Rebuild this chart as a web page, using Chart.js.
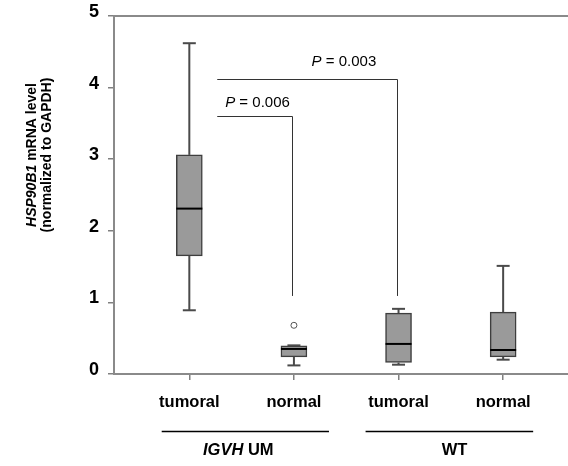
<!DOCTYPE html>
<html>
<head>
<meta charset="utf-8">
<script src="https://cdn.jsdelivr.net/npm/chart.js@4/dist/chart.umd.min.js"></script>
<style>
  html, body { margin: 0; padding: 0; background: #ffffff; }
  #wrap { width: 568px; height: 466px; position: relative; }
</style>
</head>
<body>
<div id="wrap"><canvas id="chart"></canvas></div>
<script>
// Sample groups along the x axis
const categories = ['tumoral', 'normal', 'tumoral', 'normal'];
const groups = ['IGVH UM', 'WT'];

// Box plot statistics for each sample (HSP90B1 / GAPDH)
const whiskerLow  = [0.89, 0.12, 0.13, 0.20];
const quartile1   = [1.65, 0.24, 0.16, 0.24];
const medians     = [2.31, 0.35, 0.42, 0.335];
const quartile3   = [3.06, 0.395, 0.85, 0.865];
const whiskerHigh = [4.62, 0.40, 0.91, 1.51];
const outliers    = [[], [0.68], [], []];

// Axis ticks
const yTicks = [0, 1, 2, 3, 4, 5];

// Pairwise comparisons (sample indices) and their p-values
const comparePairs = [[0, 1], [0, 2]];
const pValues = ['0.006', '0.003'];

// ---- drawing layout (data coordinates) ----
const FONT = '"Liberation Sans", Arial, Helvetica, sans-serif';
const bracketLayout = [
  { y: 3.60, x0: 1.267, x1: 1.978, drop: 1.09, textX: 1.343, textY: 3.725 },
  { y: 4.12, x0: 1.267, x1: 2.987, drop: 1.09, textX: 2.169, textY: 4.30 }
];
const groupLayout = [
  { x0: 0.736, x1: 2.335, labelX: 1.468, italic: 'IGVH' },
  { x0: 2.685, x1: 4.287, labelX: 3.535, italic: '' }
];

const boxData = categories.map((c, i) => ({ x: i + 1, y: [quartile1[i], quartile3[i]] }));
const outlierData = [];
outliers.forEach((list, i) => list.forEach(v => outlierData.push({ x: i + 1, y: v })));

const boxPlotExtras = {
  id: 'boxPlotExtras',
  afterDatasetsDraw(chart) {
    const { ctx, scales: { x, y }, chartArea } = chart;
    const meta = chart.getDatasetMeta(0);
    ctx.save();

    // whiskers and caps
    ctx.strokeStyle = '#4a4a4a';
    ctx.lineWidth = 2;
    categories.forEach((c, i) => {
      const px = x.getPixelForValue(i + 1);
      const capHalf = 6.5;
      const segs = [[quartile3[i], whiskerHigh[i]], [quartile1[i], whiskerLow[i]]];
      segs.forEach(([from, to]) => {
        if (Math.abs(from - to) < 1e-9) return;
        ctx.beginPath();
        ctx.moveTo(px, y.getPixelForValue(from));
        ctx.lineTo(px, y.getPixelForValue(to));
        ctx.stroke();
        ctx.beginPath();
        ctx.moveTo(px - capHalf, y.getPixelForValue(to));
        ctx.lineTo(px + capHalf, y.getPixelForValue(to));
        ctx.stroke();
      });
    });

    // medians across each box
    ctx.strokeStyle = '#000000';
    ctx.lineWidth = 2;
    meta.data.forEach((bar, i) => {
      const half = bar.width / 2;
      const py = y.getPixelForValue(medians[i]);
      ctx.beginPath();
      ctx.moveTo(bar.x - half, py);
      ctx.lineTo(bar.x + half, py);
      ctx.stroke();
    });

    // top frame line
    ctx.strokeStyle = '#8a8a8a';
    ctx.lineWidth = 2;
    ctx.beginPath();
    ctx.moveTo(chartArea.left, chartArea.top);
    ctx.lineTo(chartArea.right, chartArea.top);
    ctx.stroke();

    // significance brackets
    ctx.strokeStyle = '#333333';
    ctx.lineWidth = 1;
    comparePairs.forEach((pair, k) => {
      const b = bracketLayout[k];
      const yl = Math.round(y.getPixelForValue(b.y)) + 0.5;
      const xr = Math.round(x.getPixelForValue(b.x1)) + 0.5;
      ctx.beginPath();
      ctx.moveTo(x.getPixelForValue(b.x0), yl);
      ctx.lineTo(xr, yl);
      ctx.lineTo(xr, y.getPixelForValue(b.drop));
      ctx.stroke();

      ctx.fillStyle = '#000000';
      ctx.textBaseline = 'alphabetic';
      ctx.textAlign = 'left';
      let tx = x.getPixelForValue(b.textX);
      const ty = y.getPixelForValue(b.textY);
      ctx.font = 'italic 15px ' + FONT;
      ctx.fillText('P', tx, ty);
      tx += ctx.measureText('P').width;
      ctx.font = '15px ' + FONT;
      ctx.fillText(' = ' + pValues[k], tx, ty);
    });

    // group underlines and labels
    const lineY = 431.5;
    groupLayout.forEach((g, k) => {
      ctx.strokeStyle = '#000000';
      ctx.lineWidth = 1.5;
      ctx.beginPath();
      ctx.moveTo(x.getPixelForValue(g.x0), lineY);
      ctx.lineTo(x.getPixelForValue(g.x1), lineY);
      ctx.stroke();

      ctx.fillStyle = '#000000';
      ctx.textBaseline = 'alphabetic';
      ctx.textAlign = 'left';
      const label = groups[k];
      const italicPart = g.italic;
      const restPart = label.slice(italicPart.length);
      ctx.font = 'italic bold 16.5px ' + FONT;
      const w1 = ctx.measureText(italicPart).width;
      ctx.font = 'bold 16.5px ' + FONT;
      const w2 = ctx.measureText(restPart).width;
      const tx = x.getPixelForValue(g.labelX) - (w1 + w2) / 2;
      const ty = 454.5;
      ctx.font = 'italic bold 16.5px ' + FONT;
      ctx.fillText(italicPart, tx, ty);
      ctx.font = 'bold 16.5px ' + FONT;
      ctx.fillText(restPart, tx + w1, ty);
    });

    // y axis title (two lines, gene symbol in italics)
    const cy = 155;
    const lines = [
      [['HSP90B1', 'italic bold'], [' mRNA level', 'bold']],
      [['(normalized to GAPDH)', 'bold']]
    ];
    const lineX = [32, 47];
    lines.forEach((parts, li) => {
      let total = 0;
      parts.forEach(([t, s]) => { ctx.font = s + ' 14px ' + FONT; total += ctx.measureText(t).width; });
      ctx.save();
      ctx.translate(lineX[li], cy);
      ctx.rotate(-Math.PI / 2);
      ctx.textBaseline = 'middle';
      ctx.textAlign = 'left';
      ctx.fillStyle = '#000000';
      let tx = -total / 2;
      parts.forEach(([t, s]) => {
        ctx.font = s + ' 14px ' + FONT;
        ctx.fillText(t, tx, 0);
        tx += ctx.measureText(t).width;
      });
      ctx.restore();
    });

    ctx.restore();
  }
};

new Chart(document.getElementById('chart'), {
  type: 'bar',
  data: {
    datasets: [
      {
        label: 'box',
        data: boxData,
        backgroundColor: '#9a9a9a',
        borderColor: '#3e3e3e',
        borderWidth: 1.5,
        borderSkipped: false,
        barThickness: 26,
        order: 2
      },
      {
        type: 'scatter',
        label: 'outliers',
        data: outlierData,
        pointRadius: 3,
        pointBackgroundColor: '#ffffff',
        pointBorderColor: '#555555',
        pointBorderWidth: 1,
        order: 1
      }
    ]
  },
  options: {
    responsive: true,
    maintainAspectRatio: false,
    animation: false,
    layout: { autoPadding: false, padding: { top: 16, right: 0, left: 0, bottom: 0 } },
    plugins: {
      legend: { display: false },
      tooltip: { enabled: false },
      title: { display: false }
    },
    scales: {
      x: {
        type: 'linear',
        min: 0.28,
        max: 4.62,
        offset: false,
        afterBuildTicks(scale) { scale.ticks = categories.map((c, i) => ({ value: i + 1 })); },
        afterFit(scale) { scale.height = 92; scale.paddingLeft = 0; scale.paddingRight = 0; },
        ticks: {
          callback: (v) => categories[Math.round(v) - 1],
          autoSkip: false,
          maxRotation: 0,
          color: '#000000',
          padding: 13,
          font: { family: FONT, size: 16.5, weight: 'bold' }
        },
        grid: { display: true, offset: false, drawOnChartArea: false, drawTicks: true, tickLength: 6, color: '#808080', lineWidth: 1.5 },
        border: { display: true, color: '#8a8a8a', width: 2 }
      },
      y: {
        type: 'linear',
        min: 0,
        max: 5,
        afterBuildTicks(scale) { scale.ticks = yTicks.map(v => ({ value: v })); },
        afterFit(scale) { scale.width = 114; scale.paddingTop = 0; scale.paddingBottom = 0; },
        ticks: {
          callback: (v) => [String(v), ''],
          color: '#000000',
          padding: 9,
          font: { family: FONT, size: 18, weight: 'bold', lineHeight: '8px' }
        },
        grid: { display: true, drawOnChartArea: false, drawTicks: true, tickLength: 6, color: '#808080', lineWidth: 1.5 },
        border: { display: true, color: '#8a8a8a', width: 2 }
      }
    }
  },
  plugins: [boxPlotExtras]
});
</script>
</body>
</html>
